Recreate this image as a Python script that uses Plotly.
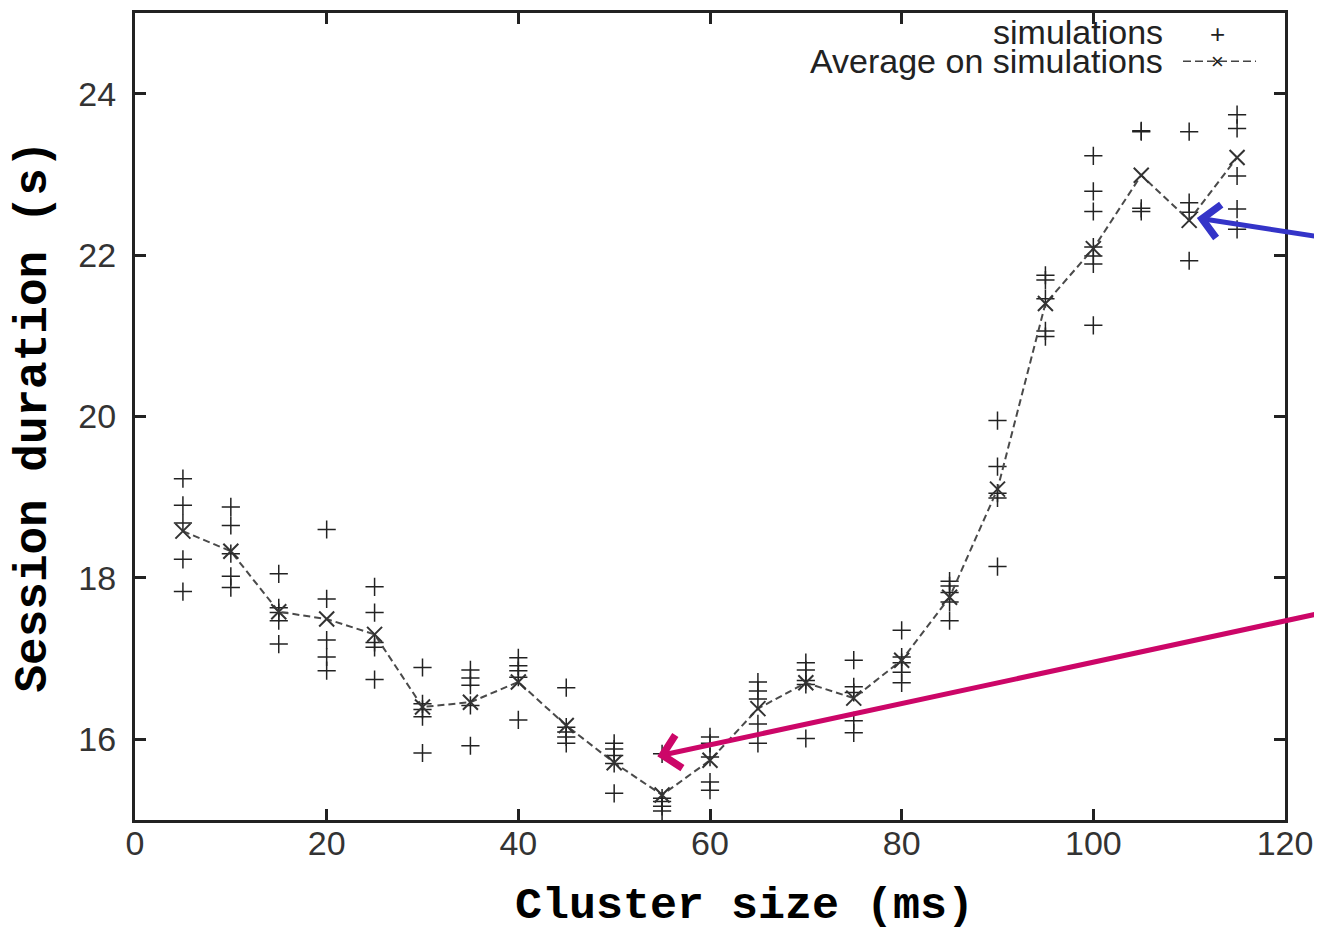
import plotly.graph_objects as go

# ---- data ----
cluster_sizes = [5, 10, 15, 20, 25, 30, 35, 40, 45, 50, 55, 60,
                 65, 70, 75, 80, 85, 90, 95, 100, 105, 110, 115]

simulation_runs = [
    [19.23, 18.90, 18.68, 18.23, 17.83],          # 5
    [18.88, 18.65, 18.30, 18.02, 17.88],          # 10
    [18.05, 17.63, 17.57, 17.47, 17.18],          # 15
    [18.60, 17.74, 17.23, 17.02, 16.85],          # 20
    [17.89, 17.57, 17.20, 17.14, 16.74],          # 25
    [16.89, 16.44, 16.37, 16.28, 15.83],          # 30
    [16.86, 16.76, 16.67, 16.42, 15.92],          # 35
    [17.01, 16.91, 16.85, 16.77, 16.24],          # 40
    [16.64, 16.15, 16.09, 16.03, 15.95],          # 45
    [15.95, 15.88, 15.80, 15.70, 15.33],          # 50
    [15.82, 15.27, 15.23, 15.17, 15.11],          # 55
    [16.03, 15.95, 15.78, 15.47, 15.37],          # 60
    [16.71, 16.60, 16.50, 16.19, 15.95],          # 65
    [16.95, 16.86, 16.73, 16.68, 16.01],          # 70
    [16.98, 16.65, 16.58, 16.23, 16.08],          # 75
    [17.35, 17.02, 16.95, 16.83, 16.70],          # 80
    [17.96, 17.90, 17.82, 17.70, 17.47],          # 85
    [19.95, 19.38, 19.05, 18.99, 18.14],          # 90
    [21.75, 21.69, 21.46, 21.06, 20.99],          # 95
    [23.23, 22.79, 22.54, 22.10, 21.99, 21.89, 21.13],  # 100
    [23.53, 23.54, 22.58, 22.54],                 # 105
    [23.53, 22.65, 22.53, 21.93],                 # 110
    [23.74, 23.57, 22.98, 22.57, 22.32],          # 115
]

average_values = [18.58, 18.33, 17.58, 17.49, 17.30, 16.40, 16.46, 16.71,
                  16.17, 15.71, 15.31, 15.74, 16.38, 16.70, 16.51, 16.98,
                  17.76, 19.10, 21.40, 22.08, 22.99, 22.43, 23.21]

x_ticks = [0, 20, 40, 60, 80, 100, 120]
y_ticks = [16, 18, 20, 22, 24]

# annotation arrows (head, tail) in data coordinates
blue_arrow = dict(head=(110.8, 22.46), tail=(124.0, 22.22))
pink_arrow = dict(head=(54.5, 15.79), tail=(124.0, 17.57))

sim_x = [x for x, runs in zip(cluster_sizes, simulation_runs) for _ in runs]
sim_y = [v for runs in simulation_runs for v in runs]

fig = go.Figure()

fig.add_trace(go.Scatter(
    x=sim_x, y=sim_y, mode="markers", name="simulations",
    marker=dict(symbol="cross-thin", size=13, color="#222222",
                line=dict(width=1.5, color="#222222")),
    showlegend=False,
))

fig.add_trace(go.Scatter(
    x=cluster_sizes, y=average_values, mode="lines+markers",
    name="Average on simulations",
    line=dict(color="#4a4a4a", width=2, dash="7px,4px"),
    marker=dict(symbol="x-thin", size=15, color="#333333",
                line=dict(width=2, color="#333333")),
    showlegend=False,
))

tick_font = dict(family="Liberation Sans, Arial, sans-serif", size=34, color="#333333")
title_font = dict(family="Liberation Mono, Courier New, monospace", size=46, color="#000000")

fig.update_xaxes(
    range=[0, 120], tickvals=x_ticks, ticktext=[str(v) for v in x_ticks],
    ticks="inside", ticklen=11, tickwidth=3, tickcolor="#222222",
    showline=True, linewidth=3, linecolor="#222222", mirror="ticks",
    showgrid=False, zeroline=False, tickfont=tick_font, ticklabelstandoff=-9,
)
fig.update_yaxes(
    range=[15, 25], tickvals=y_ticks, ticktext=[str(v) for v in y_ticks],
    ticks="inside", ticklen=11, tickwidth=3, tickcolor="#222222",
    showline=True, linewidth=3, linecolor="#222222", mirror="ticks",
    showgrid=False, zeroline=False, tickfont=tick_font, ticklabelstandoff=9,
    title=dict(text="<b>Session duration (s)</b>", font=title_font, standoff=26),
)

annotations = [
    dict(text="<b>Cluster size (ms)</b>", x=0.530, y=-0.107, xref="paper", yref="paper",
         xanchor="center", yanchor="middle", showarrow=False,
         font=dict(title_font, size=45)),
]
for arr, col in ((blue_arrow, "#3434c8"), (pink_arrow, "#cc0668")):
    annotations.append(dict(
        x=arr["head"][0], y=arr["head"][1], ax=arr["tail"][0], ay=arr["tail"][1],
        xref="x", yref="y", axref="x", ayref="y", text="",
        showarrow=True, arrowhead=4, arrowsize=1.3, arrowwidth=5, arrowcolor=col,
        standoff=0,
    ))

legend_font = dict(family="Liberation Sans, Arial, sans-serif", size=34, color="#222222")
annotations += [
    dict(text="simulations", x=0.8957, y=0.976, xref="paper", yref="paper",
         xanchor="right", yanchor="middle", showarrow=False, font=legend_font),
    dict(text="Average on simulations", x=0.8957, y=0.941, xref="paper", yref="paper",
         xanchor="right", yanchor="middle", showarrow=False, font=legend_font),
    dict(text="+", x=0.9417, y=0.9735, xref="paper", yref="paper",
         xanchor="center", yanchor="middle", showarrow=False,
         font=dict(family="Liberation Sans, Arial, sans-serif", size=26, color="#222222")),
    dict(text="×", x=0.9417, y=0.9405, xref="paper", yref="paper",
         xanchor="center", yanchor="middle", showarrow=False,
         font=dict(family="Liberation Sans, Arial, sans-serif", size=22, color="#222222")),
]

shapes = [
    dict(type="line", xref="paper", yref="paper", x0=0.9113, x1=0.9748,
         y0=0.9403, y1=0.9403, line=dict(color="#444444", width=1.5, dash="8px,4px")),
]

# the page body has an 8px default margin, so the figure is 8px smaller
fig.update_layout(
    width=1314, height=926,
    margin=dict(l=127, r=37, t=2, b=114),
    paper_bgcolor="white", plot_bgcolor="white",
    annotations=annotations, shapes=shapes,
)

fig.write_html("out.html")
